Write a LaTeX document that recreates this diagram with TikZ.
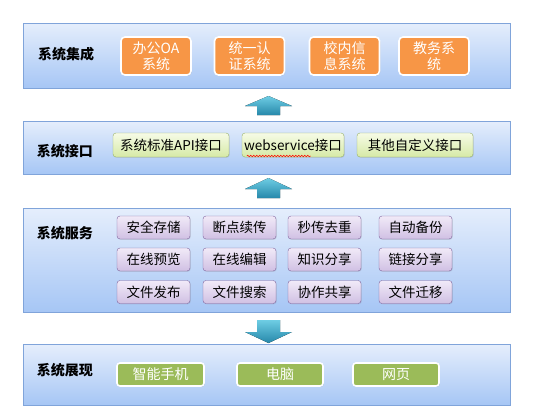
\documentclass[tikz,border=0pt]{standalone}
\usepackage{fontspec}
\setmainfont{Noto Sans CJK SC}
\usetikzlibrary{shadows,decorations.pathmorphing}
\definecolor{laytop}{RGB}{229,238,252}
\definecolor{laybot}{RGB}{166,198,245}
\definecolor{layline}{RGB}{128,164,218}
\definecolor{offorange}{RGB}{247,150,70}
\definecolor{offgreen}{RGB}{155,187,89}
\definecolor{apitop}{RGB}{246,251,230}
\definecolor{apibot}{RGB}{214,233,166}
\definecolor{apiline}{RGB}{152,178,104}
\definecolor{svctop}{RGB}{241,234,248}
\definecolor{svcbot}{RGB}{208,192,227}
\definecolor{svcline}{RGB}{128,100,158}
\definecolor{arrtop}{RGB}{110,205,228}
\definecolor{arrbot}{RGB}{38,136,170}

\begin{document}
\begin{tikzpicture}[x=1pt,y=-1pt,font=\fontsize{13.5}{15}\selectfont,
    layer/.style={draw=layline,top color=laytop,bottom color=laybot,minimum width=487pt,
      drop shadow={opacity=.25,shadow xshift=1pt,shadow yshift=-1.2pt}},
    laytitle/.style={font=\fontsize{14}{16}\selectfont\bfseries},
    sysbox/.style={draw=white,line width=1.6pt,fill=offorange,rounded corners=4pt,text=white,
      minimum width=70pt,minimum height=38pt,inner sep=0pt,align=center,
      font=\fontsize{14}{16.5}\selectfont,drop shadow={opacity=.3,shadow xshift=.8pt,shadow yshift=-.8pt}},
    apibox/.style={draw=apiline,top color=apitop,bottom color=apibot,rounded corners=3pt,
      minimum height=24pt,inner sep=0pt,drop shadow={opacity=.2,shadow xshift=.8pt,shadow yshift=-.8pt}},
    svcbox/.style={draw=svcline,top color=svctop,bottom color=svcbot,rounded corners=3pt,
      minimum width=73pt,minimum height=23pt,inner sep=0pt,drop shadow={opacity=.2,shadow xshift=.8pt,shadow yshift=-.8pt}},
    viewbox/.style={draw=white,line width=1.6pt,fill=offgreen,rounded corners=3pt,text=white,
      minimum width=86pt,minimum height=23pt,inner sep=0pt,font=\fontsize{14}{16}\selectfont,
      drop shadow={opacity=.3,shadow xshift=.8pt,shadow yshift=-.8pt}},
    blockarrow/.style={top color=arrtop,bottom color=arrbot,draw=none}]
  \useasboundingbox[fill=white] (0,0) rectangle (558,416);
  % layers
  \node[layer,minimum height=65pt] (lay1) at (266.5,55.5) {};
  \node[layer,minimum height=53pt] (lay2) at (266.5,147.5) {};
  \node[layer,minimum height=104pt] (lay3) at (266.5,260) {};
  \node[layer,minimum height=61pt] (lay4) at (266.5,374.5) {};
  \node[laytitle] (t1) at (66,54) {系统集成};
  \node[laytitle] (t2) at (65,151) {系统接口};
  \node[laytitle] (t3) at (65,233) {系统服务};
  \node[laytitle] (t4) at (65,370) {系统展现};
  % system integration
  \node[sysbox] (oa) at (156,56) {办公OA\\系统};
  \node[sysbox] (auth) at (249.5,56) {统一认\\证系统};
  \node[sysbox] (info) at (344.5,56) {校内信\\息系统};
  \node[sysbox] (edu) at (434,56) {教务系\\统};
  % interfaces
  \node[apibox,minimum width=116pt] (api1) at (171,145) {系统标准API接口};
  \node[apibox,minimum width=102pt] (api2) at (293,145) {webservice接口};
  \node[apibox,minimum width=116pt] (api3) at (415,145) {其他自定义接口};
  \draw[red,line width=.5pt,decorate,decoration={snake,amplitude=.7pt,segment length=3pt}]
    ([xshift=5pt,yshift=-11pt]api2.west) -- ++(64,0);
  % services
  \foreach \txt [count=\i from 0] in {安全存储,断点续传,秒传去重,自动备份,在线预览,在线编辑,知识分享,链接分享,文件发布,文件搜索,协作共享,文件迁移}{
    \pgfmathsetmacro\cx{{153.5,239.5,324.5,415.5}[mod(\i,4)]}
    \pgfmathsetmacro\cy{{227.5,259.5,292}[div(\i,4)]}
    \node[svcbox] (svc\i) at (\cx,\cy) {\txt};
  }
  % presentation
  \node[viewbox,minimum width=87pt] (phone) at (160.5,374.5) {智能手机};
  \node[viewbox] (pc) at (280,374.5) {电脑};
  \node[viewbox] (web) at (396,374.5) {网页};
  % block arrows
  \coordinate (a1) at (268.5,96);
  \coordinate (a2) at (268.5,178);
  \coordinate (a3) at (268.5,343);
  \fill[blockarrow] (a1) -- ++(23.5,10) -- ++(-12,0) -- ++(0,9) -- ++(-23,0) -- ++(0,-9) -- ++(-12,0) -- cycle;
  \fill[blockarrow] (a2) -- ++(23.5,11) -- ++(-12,0) -- ++(0,9) -- ++(-23,0) -- ++(0,-9) -- ++(-12,0) -- cycle;
  \fill[blockarrow] (a3) -- ++(23.5,-11) -- ++(-12,0) -- ++(0,-12) -- ++(-23,0) -- ++(0,12) -- ++(-12,0) -- cycle;
\end{tikzpicture}
\end{document}
